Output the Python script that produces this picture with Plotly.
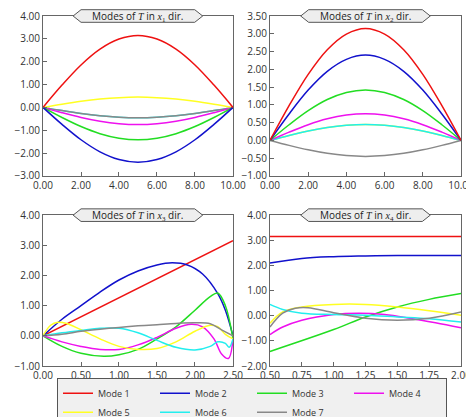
import plotly.graph_objects as go
from plotly.subplots import make_subplots

names = ['Mode 1', 'Mode 2', 'Mode 3', 'Mode 4', 'Mode 5', 'Mode 6', 'Mode 7']
colors = ['#ee1111', '#1111cc', '#22dd22', '#ee11ee', '#ffff22', '#22eeee', '#888888']

# panels 1 and 2: sampled at x = 0..10
x12 = [0, 1, 2, 3, 4, 5, 6, 7, 8, 9, 10]
shape = [0, 0.31, 0.59, 0.81, 0.95, 1.0, 0.95, 0.81, 0.59, 0.31, 0]
amp1 = [3.15, -2.4, -1.42, -0.75, 0.45, -0.45, -0.45]
amp2 = [3.15, 2.4, 1.42, 0.75, 0.45, 0.45, -0.45]

# panel 3 (x3 direction)
x3 = [
    [0, 2.5],
    [0, 0.25, 0.5, 0.75, 1.0, 1.25, 1.5, 1.7, 1.9, 2.1, 2.3, 2.4, 2.5],
    [0, 0.25, 0.5, 0.8, 1.0, 1.25, 1.5, 1.75, 2.0, 2.2, 2.3, 2.4, 2.5],
    [0, 0.25, 0.5, 0.75, 1.0, 1.25, 1.5, 1.75, 1.95, 2.1, 2.25, 2.35, 2.44, 2.5],
    [0, 0.1, 0.2, 0.3, 0.5, 0.75, 1.0, 1.25, 1.5, 1.75, 2.0, 2.2, 2.3, 2.4, 2.5],
    [0, 0.25, 0.5, 0.75, 1.0, 1.25, 1.5, 1.75, 2.0, 2.2, 2.3, 2.4, 2.45, 2.5],
    [0, 0.25, 0.5, 0.75, 1.0, 1.25, 1.5, 1.75, 2.0, 2.2, 2.35, 2.5],
]
y3 = [
    [0, 3.15],
    [0, 0.55, 1.0, 1.45, 1.85, 2.15, 2.35, 2.42, 2.35, 2.05, 1.4, 0.85, 0],
    [0, -0.35, -0.58, -0.68, -0.63, -0.45, -0.1, 0.3, 0.85, 1.3, 1.42, 1.0, -0.1],
    [0, -0.2, -0.35, -0.45, -0.45, -0.3, -0.05, 0.25, 0.38, 0.3, -0.1, -0.6, -0.75, -0.1],
    [0, 0.35, 0.45, 0.42, 0.2, -0.1, -0.35, -0.45, -0.42, -0.2, 0.15, 0.35, 0.3, 0.05, -0.1],
    [0, 0.1, 0.18, 0.25, 0.25, 0.1, -0.15, -0.38, -0.47, -0.35, -0.2, -0.25, -0.38, -0.1],
    [0, 0.05, 0.15, 0.22, 0.28, 0.33, 0.37, 0.41, 0.43, 0.4, 0.2, 0.0],
]

# panel 4 (x4 direction)
x4 = [
    [0.5, 2.0],
    [0.5, 0.75, 1.0, 1.25, 1.5, 2.0],
    [0.5, 1.0, 1.25, 1.5, 1.75, 2.0],
    [0.5, 0.6, 0.75, 1.0, 1.2, 1.4, 1.6, 1.8, 2.0],
    [0.5, 0.6, 0.75, 1.0, 1.25, 1.5, 1.75, 2.0],
    [0.5, 0.6, 0.75, 1.0, 1.25, 1.5, 1.75, 2.0],
    [0.5, 0.6, 0.7, 0.8, 1.0, 1.25, 1.5, 1.75, 2.0],
]
y4 = [
    [3.15, 3.15],
    [2.1, 2.28, 2.35, 2.38, 2.4, 2.4],
    [-1.42, -0.55, -0.05, 0.35, 0.65, 0.88],
    [-0.75, -0.45, -0.18, 0.05, 0.1, 0.05, -0.1, -0.28, -0.48],
    [-0.3, 0.15, 0.35, 0.45, 0.45, 0.35, 0.2, 0.02],
    [0.45, 0.25, 0.1, 0.05, 0.02, -0.05, -0.12, -0.25],
    [-0.45, 0.1, 0.3, 0.32, 0.12, -0.1, -0.18, -0.1, 0.15],
]

fig = make_subplots(rows=2, cols=2)

# draw order so that visible overlaps match the reference
for i in [5, 6, 4, 3, 2, 1, 0]:
    fig.add_trace(go.Scatter(x=x12, y=[amp1[i] * s for s in shape], mode='lines',
                             line=dict(color=colors[i], width=1.5, shape='spline'),
                             showlegend=False), row=1, col=1)
for i in [4, 5, 6, 3, 2, 1, 0]:
    fig.add_trace(go.Scatter(x=x12, y=[amp2[i] * s for s in shape], mode='lines',
                             line=dict(color=colors[i], width=1.5, shape='spline'),
                             showlegend=False), row=1, col=2)
for i in range(7):
    fig.add_trace(go.Scatter(x=x3[i], y=y3[i], mode='lines', name=names[i],
                             line=dict(color=colors[i], width=1.5, shape='spline'),
                             showlegend=True), row=2, col=1)
    fig.add_trace(go.Scatter(x=x4[i], y=y4[i], mode='lines',
                             line=dict(color=colors[i], width=1.5, shape='spline'),
                             showlegend=False), row=2, col=2)

axis_style = dict(showline=True, linecolor='#666', linewidth=1, mirror=True,
                  showgrid=False, zeroline=False, ticks='inside', ticklen=4,
                  tickcolor='#666', tickformat='.2f', automargin=False,
                  tickfont=dict(size=10, color='#333'))

fig.update_xaxes(**axis_style)
fig.update_yaxes(**axis_style)
fig.update_xaxes(range=[0, 10], dtick=2, domain=[0, 0.4545], row=1, col=1)
fig.update_xaxes(range=[0, 10], dtick=2, domain=[0.543, 1], row=1, col=2)
fig.update_xaxes(range=[0, 2.5], dtick=0.5, domain=[0, 0.4545], row=2, col=1)
fig.update_xaxes(range=[0.5, 2.0], dtick=0.25, domain=[0.543, 1], row=2, col=2)
fig.update_yaxes(range=[-3, 4], dtick=1, domain=[0.543, 1], row=1, col=1)
fig.update_yaxes(range=[-1, 3.5], dtick=0.5, domain=[0.543, 1], row=1, col=2)
fig.update_yaxes(range=[-1, 4], dtick=1, domain=[0, 0.431], row=2, col=1)
fig.update_yaxes(range=[-2, 4], dtick=1, domain=[0, 0.431], row=2, col=2)

subs = ['1', '2', '3', '4']
centers = [(0.227, 1.0), (0.7715, 1.0), (0.227, 0.431), (0.7715, 0.431)]
for s, (cx, cy) in zip(subs, centers):
    w, h, p = 0.136, 0.018, 0.019
    fig.add_shape(type='path', xref='paper', yref='paper',
                  path=f'M {cx-w-p},{cy} L {cx-w},{cy+h} L {cx+w},{cy+h} L {cx+w+p},{cy} '
                       f'L {cx+w},{cy-h} L {cx-w},{cy-h} Z',
                  fillcolor='#eeeeee', line=dict(color='#555', width=1))
    fig.add_annotation(x=cx, y=cy, xref='paper', yref='paper', showarrow=False,
                       xanchor='center', yanchor='middle',
                       text=f"Modes of <span style='font-family:Liberation Serif'><i>T</i></span> in "
                            f"<span style='font-family:Liberation Serif'><i>x</i><sub>{s}</sub></span> dir.",
                       font=dict(size=10, color='#222'))

fig.update_layout(
    width=474, height=417, margin=dict(l=35, r=21, t=8, b=59, autoexpand=False),
    plot_bgcolor='white', paper_bgcolor='white',
    font=dict(family='Open Sans', size=10, color='#333'),
    legend=dict(orientation='h', x=0.5, xanchor='center', y=-0.105, yanchor='middle',
                bgcolor='#f0f0f0', bordercolor='#555', borderwidth=1,
                font=dict(size=9), entrywidth=52, entrywidthmode='pixels',
                itemwidth=30, tracegroupgap=0),
)

fig.write_html("out.html")
